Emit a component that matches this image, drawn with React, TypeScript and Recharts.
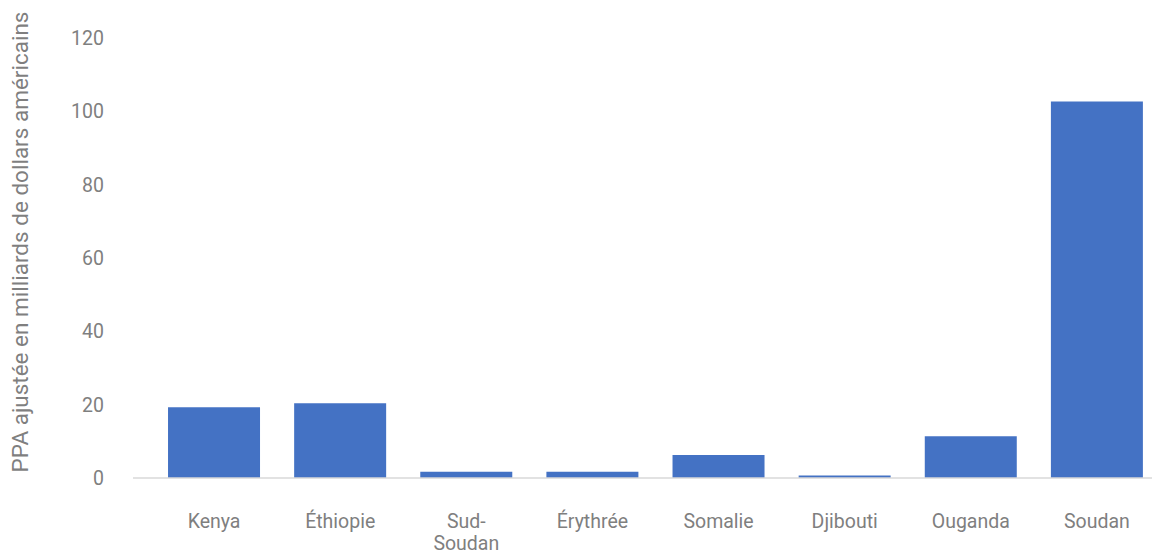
import React from 'react';
import { BarChart, Bar, XAxis, YAxis, Label } from 'recharts';

const countries = ['Kenya', 'Éthiopie', 'Sud-Soudan', 'Érythrée', 'Somalie', 'Djibouti', 'Ouganda', 'Soudan'];
const values = [19.3, 20.4, 1.7, 1.7, 6.3, 0.7, 11.4, 102.7];
const yTicks = [0, 20, 40, 60, 80, 100, 120];
const yTitle = 'PPA ajustée en milliards de dollars américains';

const data = countries.map((c, i) => ({ name: c, value: values[i] }));

const FONT = 'Roboto, "Open Sans", sans-serif';
const GRAY = '#7f7f7f';

const XTick = (props: any) => {
  const { x, y, payload } = props;
  const label: string = payload.value;
  const lines = label.includes('-') ? [label.slice(0, label.indexOf('-') + 1), label.slice(label.indexOf('-') + 1)] : [label];
  return (
    <text x={x} y={y} textAnchor="middle" fill={GRAY} fontSize={19.5} fontFamily={FONT}>
      {lines.map((l, i) => (
        <tspan key={i} x={x} dy={i === 0 ? 42 : 22}>{l}</tspan>
      ))}
    </text>
  );
};

const YTitle = (props: any) => {
  const { viewBox } = props;
  const cy = viewBox.y + viewBox.height / 2 - 16;
  const cx = 12;
  return (
    <text x={cx} y={cy} transform={`rotate(-90 ${cx} ${cy})`} textAnchor="middle" dominantBaseline="central" fill={GRAY} fontSize={22.5} fontFamily={FONT}>
      {yTitle}
    </text>
  );
};

export default function App() {
  return (
    <div style={{ width: 1152, height: 546 }}>
      <BarChart width={1152} height={546} data={data} margin={{ top: 30, right: 0, bottom: 0, left: 0 }} barCategoryGap="13.5%">
        <XAxis
          dataKey="name"
          tickLine={false}
          axisLine={{ stroke: '#d9d9d9', strokeWidth: 1.5 }}
          tick={<XTick />}
          interval={0}
          height={76}
          padding={{ left: 18, right: 0 }}
        />
        <YAxis
          domain={[0, 120]}
          ticks={yTicks}
          width={125}
          axisLine={false}
          tickLine={false}
          tickMargin={23}
          tick={{ fill: GRAY, fontSize: 19.5, fontFamily: FONT }}
        >
          <Label content={<YTitle />} />
        </YAxis>
        <Bar dataKey="value" fill="#4472c4" isAnimationActive={false} />
      </BarChart>
    </div>
  );
}
